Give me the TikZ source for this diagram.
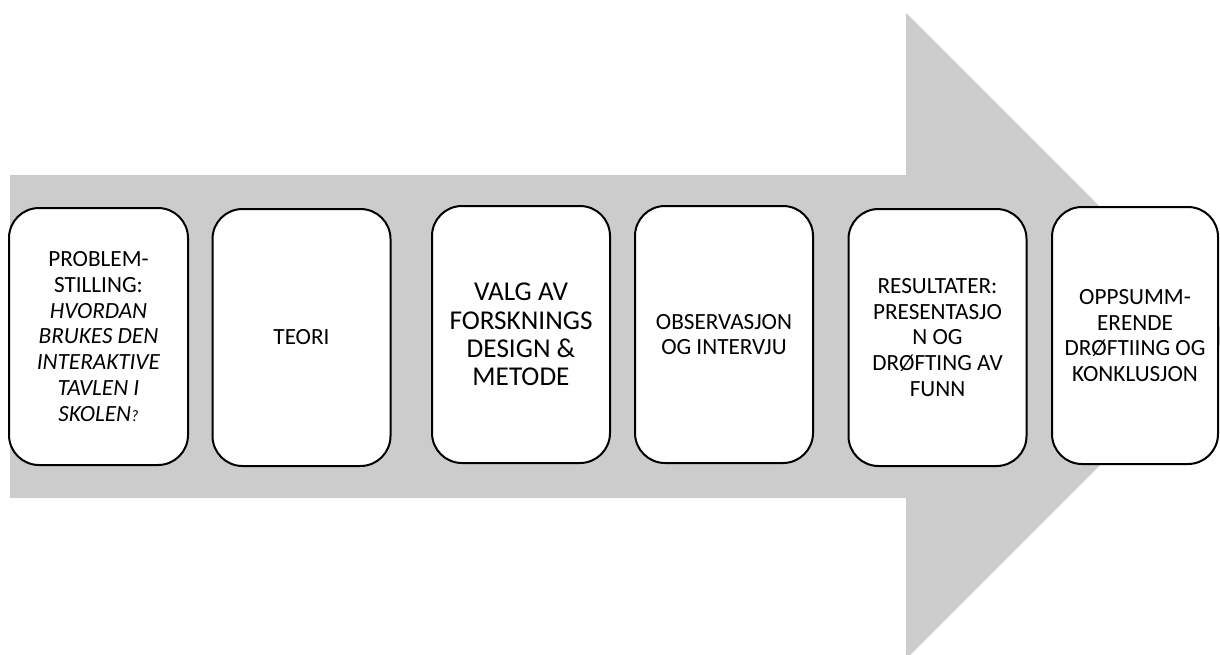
\documentclass[tikz,border=0pt]{standalone}
\usepackage{fontspec}
\setmainfont{Carlito}
\usepackage{xcolor}
\usepackage{tikz}
\definecolor{arrowgray}{RGB}{204,204,204}

\begin{document}
\begin{tikzpicture}[x=0.5pt, y=-0.5pt,
    stage/.style={draw, line width=1pt, rounded corners=15pt, fill=white, align=center,
        minimum width=89pt, minimum height=128.5pt, inner sep=2pt,
        font=\fontsize{11.6}{12.9}\selectfont}]
    \useasboundingbox (0,0) rectangle (1220,654);
    \clip (0,0) rectangle (1220,654);

    % big arrow behind the steps
    \fill[arrowgray] (10,175) -- (906,175) -- (906,13) -- (1229,336) -- (906,659) -- (906,498) -- (10,498) -- cycle;

    \node[stage, minimum width=89.5pt] (problem) at (98.5,336.5) {PROBLEM-\\STILLING:\\\textit{HVORDAN}\\\textit{BRUKES DEN}\\\textit{INTERAKTIVE}\\\textit{TAVLEN I}\\\textit{SKOLEN}{\footnotesize\textit{?}}};
    \node[stage] (teori) at (301.5,337.5) {TEORI};
    \node[stage, font=\fontsize{13.6}{14.2}\selectfont] (metode) at (521,334.5) {VALG AV\\FORSKNINGS\\DESIGN \&\\METODE};
    \node[stage, font=\fontsize{11.6}{12.2}\selectfont] (empiri) at (724,334.5) {OBSERVASJON\\OG INTERVJU};
    \node[stage] (funn) at (937.5,337.5) {RESULTATER:\\PRESENTASJO\\N OG\\DRØFTING AV\\FUNN};
    \node[stage, minimum width=83pt] (konklusjon) at (1135,335.5) {OPPSUMM-\\ERENDE\\DRØFTIING OG\\KONKLUSJON};
\end{tikzpicture}
\end{document}
